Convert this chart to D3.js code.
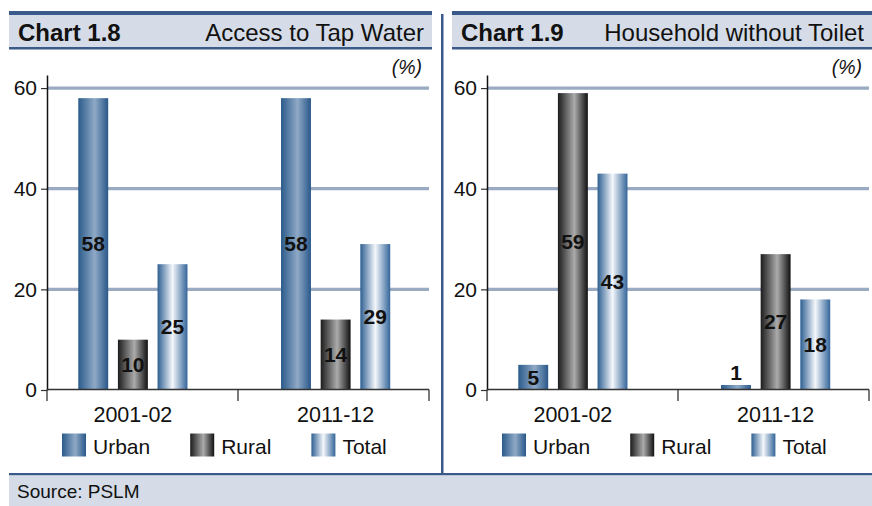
<!DOCTYPE html>
<html>
<head>
<meta charset="utf-8">
<script src="https://cdn.jsdelivr.net/npm/d3@7"></script>
<style>
  body { margin: 0; background: #ffffff; }
  text { font-family: "Liberation Sans", Arial, sans-serif; fill: #111111; }
</style>
</head>
<body>
<script>
// Chart data
var categories = ["2001-02", "2011-12"];
var seriesNames = ["Urban", "Rural", "Total"];
var yTicks = [0, 20, 40, 60];

var tapUrban = [58, 58];
var tapRural = [10, 14];
var tapTotal = [25, 29];

var toiletUrban = [5, 1];
var toiletRural = [59, 27];
var toiletTotal = [43, 18];

var width = 872;
var height = 506;
var navy = "#3b5a8c";
var band = "#d5dce7";
var grid = "#9aaac3";

var svg = d3.select("body").append("svg")
            .attr("width", width)
            .attr("height", height);

// gradients for the three series
var defs = svg.append("defs");
var gradStops = {
  Urban: [["0%", "#2b5b8b"], ["55%", "#8fa9c6"], ["100%", "#295889"]],
  Rural: [["0%", "#1c1c1c"], ["55%", "#ababab"], ["100%", "#101010"]],
  Total: [["0%", "#2e5f92"], ["50%", "#f4f7fb"], ["100%", "#34659a"]]
};
seriesNames.forEach(function(s) {
  var lg = defs.append("linearGradient")
    .attr("id", "grad-" + s)
    .attr("x1", "0").attr("x2", "1").attr("y1", "0").attr("y2", "0");
  gradStops[s].forEach(function(st) {
    lg.append("stop").attr("offset", st[0]).attr("stop-color", st[1]);
  });
});

// frame: divider, bottom rule, source strip
svg.append("rect").attr("x", 441).attr("y", 14).attr("width", 2.5).attr("height", 461).attr("fill", navy);
svg.append("rect").attr("x", 9).attr("y", 473).attr("width", 863).attr("height", 2.5).attr("fill", navy);
svg.append("rect").attr("x", 9).attr("y", 475.5).attr("width", 863).attr("height", 30.5).attr("fill", band);
svg.append("text").attr("x", 17).attr("y", 498)
   .style("font-size", "19px").text("Source: PSLM");

function drawPanel(offset, headX, headW, label, title, values) {
  var g = svg.append("g").attr("transform", "translate(" + offset + ",0)");

  // header strip
  g.append("rect").attr("x", headX).attr("y", 15).attr("width", headW).attr("height", 32).attr("fill", band);
  g.append("rect").attr("x", headX).attr("y", 11).attr("width", headW).attr("height", 4).attr("fill", navy);
  g.append("rect").attr("x", headX).attr("y", 47).attr("width", headW).attr("height", 2.5).attr("fill", navy);
  g.append("text").attr("x", headX + 9).attr("y", 41)
    .style("font-size", "24px").style("font-weight", "bold").text(label);
  g.append("text").attr("x", headX + headW - 8).attr("y", 41)
    .attr("text-anchor", "end").style("font-size", "24px").text(title);
  g.append("text").attr("x", 422).attr("y", 74)
    .attr("text-anchor", "end").style("font-size", "19.5px").style("font-style", "italic").text("(%)");

  var y = d3.scaleLinear().domain([0, 62.6]).range([390, 75]);
  var xEdge = d3.scaleBand().domain(categories).range([47, 429]);
  var xBar = d3.scaleBand().domain(categories).range([31.5, 437]);
  var xSeries = d3.scaleBand().domain(seriesNames).range([0, xBar.bandwidth()])
                  .paddingInner(0.245).paddingOuter(1.18);

  // gridlines
  g.selectAll(".grid").data(yTicks.filter(function(t) { return t > 0; }))
    .enter().append("line")
    .attr("x1", 47).attr("x2", 429)
    .attr("y1", function(d) { return y(d); }).attr("y2", function(d) { return y(d); })
    .attr("stroke", grid).attr("stroke-width", 3.3);

  // y axis
  var yAxis = d3.axisLeft(y).tickValues(yTicks).tickSize(6).tickSizeOuter(0).tickPadding(4);
  var ya = g.append("g").attr("transform", "translate(47,0)").call(yAxis);
  ya.select(".domain").attr("stroke", "#111").attr("stroke-width", 1.5);
  ya.selectAll(".tick line").attr("stroke", "#333").attr("stroke-width", 1.2);
  ya.selectAll("text").style("font-size", "21px").attr("fill", "#111")
    .style("font-family", "'Liberation Sans', Arial, sans-serif");

  // bars
  var rows = [];
  categories.forEach(function(c, i) {
    seriesNames.forEach(function(s, j) {
      rows.push({ cat: c, series: s, value: values[j][i] });
    });
  });

  var barW = xSeries.bandwidth();
  g.selectAll(".bar").data(rows).enter().append("rect")
    .attr("x", function(d) { return xBar(d.cat) + xSeries(d.series); })
    .attr("y", function(d) { return y(d.value); })
    .attr("width", barW)
    .attr("height", function(d) { return 389.5 - y(d.value); })
    .attr("fill", function(d) { return "url(#grad-" + d.series + ")"; });

  g.selectAll(".val").data(rows).enter().append("text")
    .attr("x", function(d) { return xBar(d.cat) + xSeries(d.series) + barW / 2; })
    .attr("y", function(d) {
      var h = 389.5 - y(d.value);
      return h < 20 ? y(d.value) - 5 : (y(d.value) + 389.5) / 2;
    })
    .attr("dy", function(d) { return (389.5 - y(d.value)) < 20 ? "0" : "0.36em"; })
    .attr("text-anchor", "middle")
    .style("font-size", "21px").style("font-weight", "bold")
    .text(function(d) { return d.value; });

  // x axis: baseline with boundary ticks, labels under bar groups
  g.append("line").attr("x1", 47).attr("x2", 429).attr("y1", 389.5).attr("y2", 389.5)
    .attr("stroke", "#333").attr("stroke-width", 1.5);
  var edges = categories.map(function(c) { return xEdge(c); }).concat([xEdge.range()[1]]);
  g.selectAll(".edge").data(edges).enter().append("line")
    .attr("x1", function(d) { return d; }).attr("x2", function(d) { return d; })
    .attr("y1", 389.5).attr("y2", 401)
    .attr("stroke", "#333").attr("stroke-width", 1.3);

  var xAxis = d3.axisBottom(xBar).tickSize(0).tickPadding(17);
  var xa = g.append("g").attr("transform", "translate(0,389.5)").call(xAxis);
  xa.select(".domain").remove();
  xa.selectAll("text").style("font-size", "21.5px").attr("fill", "#111")
    .style("font-family", "'Liberation Sans', Arial, sans-serif");

  // legend
  var lx = 62;
  seriesNames.forEach(function(s) {
    g.append("rect").attr("x", lx).attr("y", 433.5).attr("width", 24).attr("height", 23)
      .attr("fill", "url(#grad-" + s + ")");
    var t = g.append("text").attr("x", lx + 31).attr("y", 453.5)
      .style("font-size", "21px").text(s);
    lx = lx + 31 + t.node().getComputedTextLength() + 40;
  });
}

drawPanel(0, 9, 423, "Chart 1.8", "Access to Tap Water", [tapUrban, tapRural, tapTotal]);
drawPanel(440, 12, 420, "Chart 1.9", "Household without Toilet", [toiletUrban, toiletRural, toiletTotal]);
</script>
</body>
</html>
